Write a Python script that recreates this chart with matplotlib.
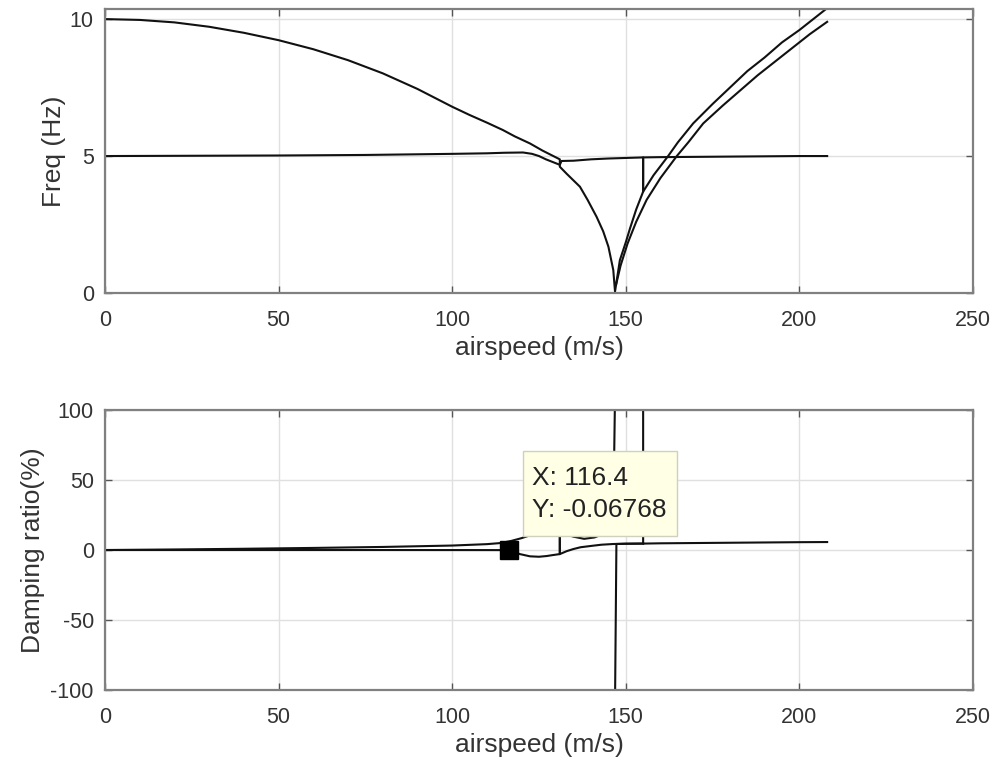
import numpy as np
import matplotlib
matplotlib.use("Agg")
from matplotlib import pyplot as plt
from matplotlib.patches import Rectangle

plt.rcParams['font.family'] = ['Liberation Sans', 'DejaVu Sans']
plt.rcParams['axes.unicode_minus'] = False

# frequency branches (Hz) vs airspeed (m/s)
speed_f1 = [0, 10, 20, 30, 40, 50, 60, 70, 80, 90, 100, 105, 110, 114.6, 118, 122.4, 126, 131,
            131, 133, 136.8, 139, 141.6, 143.5, 145, 146.4, 146.9,
            148.3, 150, 151.2, 153, 155, 155, 160, 170, 180, 190, 200, 208]
freq_1 = [10.0, 9.97, 9.88, 9.72, 9.5, 9.23, 8.9, 8.5, 8.02, 7.45, 6.8, 6.5, 6.22, 5.95, 5.72, 5.46, 5.2, 4.88,
          4.61, 4.35, 3.88, 3.4, 2.78, 2.25, 1.69, 0.84, 0.05,
          1.2, 1.85, 2.35, 3.05, 3.7, 4.95, 4.96, 4.97, 4.98, 4.99, 5.0, 5.0]

speed_f2 = [0, 25, 50, 75, 100, 110, 115, 120.4, 123, 125, 127, 129, 131, 131.5, 135, 140, 145,
            150, 155, 155, 158, 162.2, 165, 169.4, 175, 180, 185, 190, 195, 200, 205, 208]
freq_2 = [5.0, 5.01, 5.02, 5.04, 5.08, 5.1, 5.12, 5.13, 5.08, 5.0, 4.88, 4.78, 4.68, 4.82, 4.83, 4.88, 4.91,
          4.93, 4.95, 3.7, 4.3, 5.0, 5.5, 6.19, 6.9, 7.5, 8.1, 8.6, 9.15, 9.6, 10.1, 10.4]

speed_f3 = [147.2, 148.5, 150.5, 153, 156, 160, 164.7, 168, 172.3, 178, 183, 188, 193, 198, 203, 208]
freq_3 = [0.3, 1.0, 1.8, 2.6, 3.4, 4.2, 5.0, 5.5, 6.19, 6.85, 7.4, 7.95, 8.45, 8.95, 9.45, 9.9]

# damping ratio (%) vs airspeed (m/s)
speed_d1 = [0, 20, 40, 60, 80, 100, 110, 116.4, 119.5, 122.4, 125, 127.2, 129, 131,
            131, 133, 135, 138, 141, 143, 145, 146.5, 146.9, 155, 155, 160, 170, 180, 190, 200, 208]
damp_1 = [0, 0, 0, 0, 0, -0.03, -0.05, -0.07, -2.9, -4.5, -4.8, -4.3, -3.6, -2.9,
          12, 11, 9.5, 8, 9, 11, 18, 40, 110, 110, 4.6, 4.8, 5.0, 5.2, 5.4, 5.6, 5.7]

speed_d2 = [0, 20, 40, 60, 80, 100, 110, 114, 117, 120, 123, 126, 129, 131,
            131, 133, 134.9, 137, 140.6, 143, 146.4, 150, 155]
damp_2 = [0, 0.4, 0.9, 1.5, 2.2, 3.2, 4.2, 5.0, 6.5, 8.5, 11, 13, 12, 10,
          -2.9, -0.8, 0.7, 2.0, 3.1, 3.8, 4.3, 4.5, 4.6]

speed_d3 = [146.9, 147.3, 150, 155]
damp_3 = [-110, 4.3, 4.5, 4.6]

tip_x, tip_y = 116.4, -0.06768

line_kw = dict(color='#111111', lw=1.5)

fig = plt.figure(figsize=(9.97, 7.66), dpi=100)
ax1 = fig.add_axes([0.1053, 0.6175, 0.8706, 0.3708])
ax2 = fig.add_axes([0.1053, 0.0992, 0.8706, 0.3655])

ax1.plot(speed_f1, freq_1, **line_kw)
ax1.plot(speed_f2, freq_2, **line_kw)
ax1.plot(speed_f3, freq_3, **line_kw)
ax1.set_ylim(0, 10.37)
ax1.set_yticks([0, 5, 10])
ax1.set_ylabel('Freq (Hz)', fontsize=19, color='#333333', labelpad=3)

ax2.plot(speed_d1, damp_1, **line_kw)
ax2.plot(speed_d2, damp_2, **line_kw)
ax2.plot(speed_d3, damp_3, **line_kw)
ax2.set_ylim(-100, 100)
ax2.set_yticks([-100, -50, 0, 50, 100])
ax2.set_ylabel('Damping ratio(%)', fontsize=19, color='#333333', labelpad=4)

# data tip
ax2.plot([tip_x], [tip_y], 's', color='black', ms=13, zorder=5)
ax2.add_patch(Rectangle((120.4, 10), 44.3, 60.7, fc='#ffffe6', ec='#d0d0bc', lw=1, zorder=6))
ax2.text(123, 40, 'X: %.1f\nY: %.5f' % (tip_x, tip_y), fontsize=19, color='#222222',
         va='center', ha='left', linespacing=1.45, zorder=7)

for ax in (ax1, ax2):
    ax.set_xlim(0, 250)
    ax.set_xticks([0, 50, 100, 150, 200, 250])
    ax.set_xlabel('airspeed (m/s)', fontsize=19, color='#333333', labelpad=4)
    ax.grid(True, color='#e0e0e0', lw=1)
    ax.set_axisbelow(True)
    ax.tick_params(direction='in', length=5, width=1, colors='#555555',
                   labelsize=15.5, labelcolor='#333333', top=True, right=True)
    ax.tick_params(axis='x', pad=12)
    ax.tick_params(axis='y', pad=8)
    for s in ax.spines.values():
        s.set_color('#808080')
        s.set_linewidth(1.6)

fig.savefig('out.png', dpi=100)
